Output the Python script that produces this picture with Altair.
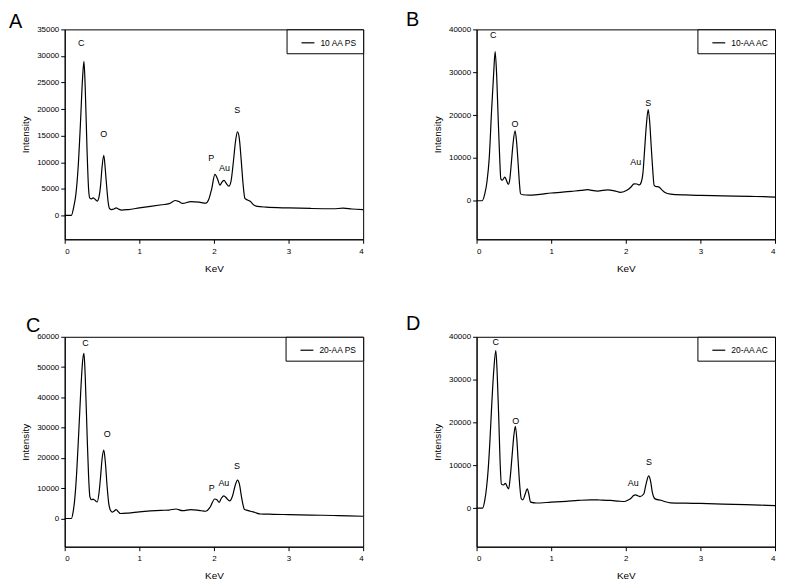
import altair as alt
import pandas as pd

# ---------------- Panel A : 10 AA PS ----------------
kev_a = [0.00, 0.09, 0.12, 0.15, 0.18, 0.21, 0.24, 0.258, 0.275, 0.30, 0.32, 0.335, 0.36, 0.38, 0.41,
         0.435, 0.46, 0.48, 0.50, 0.524, 0.545, 0.565, 0.585, 0.60, 0.63, 0.66, 0.69, 0.72, 0.76, 0.85,
         1.00, 1.15, 1.30, 1.40, 1.48, 1.53, 1.58, 1.69, 1.80, 1.89, 1.93, 1.97, 2.013, 2.05, 2.08,
         2.11, 2.135, 2.165, 2.20, 2.23, 2.26, 2.29, 2.316, 2.34, 2.365, 2.39, 2.415, 2.45, 2.49, 2.53,
         2.58, 2.70, 3.00, 3.30, 3.60, 3.73, 3.85, 4.00]
int_a = [0, 0, 1500, 4000, 9000, 17000, 26000, 29000, 24000, 12000, 5000, 3300, 3100, 3300, 3000,
         2700, 3500, 5500, 9000, 11300, 8500, 5000, 2200, 1300, 1100, 1200, 1400, 1200, 1000, 1100,
         1400, 1700, 2000, 2200, 2800, 2600, 2250, 2600, 2500, 2300, 3000, 5000, 7700, 6800, 5700,
         6300, 6600, 6000, 5500, 6500, 10000, 14000, 15700, 14500, 10500, 6000, 3200, 2900, 2600, 2000,
         1700, 1550, 1400, 1300, 1250, 1350, 1200, 1100]
peaks_a = ["C", "O", "P", "Au", "S"]
peaks_a_kev = [0.222, 0.524, 1.964, 2.142, 2.311]
peaks_a_int = [32500, 15300, 10800, 8900, 19800]

# ---------------- Panel B : 10-AA AC ----------------
kev_b = [0.00, 0.076, 0.11, 0.14, 0.17, 0.20, 0.23, 0.249, 0.27, 0.29, 0.31, 0.325, 0.345, 0.378, 0.40,
         0.425, 0.445, 0.467, 0.49, 0.516, 0.535, 0.556, 0.575, 0.59, 0.62, 0.70, 0.85, 1.00, 1.15, 1.27,
         1.40, 1.49, 1.55, 1.62, 1.76, 1.85, 1.93, 2.02, 2.07, 2.11, 2.15, 2.18, 2.21, 2.23, 2.25,
         2.275, 2.30, 2.32, 2.34, 2.36, 2.38, 2.41, 2.44, 2.48, 2.52, 2.60, 2.80, 3.00, 3.30, 3.67,
         3.85, 4.00]
int_b = [0, 0, 1600, 4500, 10000, 20600, 30000, 34800, 29000, 19000, 10000, 5100, 4800, 5500, 4800,
         3800, 5000, 9000, 13500, 16300, 14000, 9000, 4000, 1600, 1400, 1300, 1500, 1800, 2000, 2200,
         2400, 2600, 2400, 2250, 2550, 2300, 1950, 2500, 3200, 3950, 3900, 3700, 4500, 6500, 11300,
         17500, 21300, 18500, 12900, 7500, 3600, 3300, 3250, 2600, 2000, 1550, 1350, 1250, 1150, 1000,
         950, 850]
peaks_b = ["C", "O", "Au", "S"]
peaks_b_kev = [0.222, 0.516, 2.133, 2.30]
peaks_b_int = [38700, 17900, 9150, 22900]

# ---------------- Panel C : 20-AA PS ----------------
kev_c = [0.00, 0.09, 0.115, 0.133, 0.16, 0.187, 0.215, 0.24, 0.258, 0.275, 0.30, 0.32, 0.338, 0.36, 0.378,
         0.405, 0.435, 0.46, 0.48, 0.50, 0.524, 0.545, 0.569, 0.59, 0.613, 0.636, 0.66, 0.689, 0.72, 0.747,
         0.85, 1.00, 1.15, 1.29, 1.40, 1.49, 1.58, 1.69, 1.80, 1.89, 1.95, 2.01, 2.04, 2.07, 2.10,
         2.133, 2.17, 2.21, 2.25, 2.28, 2.316, 2.34, 2.37, 2.39, 2.41, 2.45, 2.49, 2.55, 2.62, 2.80,
         3.00, 3.30, 3.60, 3.80, 4.00]
int_c = [0, 0, 2500, 6000, 15000, 27800, 42000, 52000, 54500, 47000, 27800, 14000, 7100, 6200, 6400,
         6000, 5450, 8500, 13600, 19500, 22600, 18500, 10400, 5000, 2700, 2100, 2400, 2950, 2200, 1650,
         1800, 2200, 2500, 2700, 2800, 3150, 2600, 2950, 2700, 2400, 3800, 6450, 6200, 5350, 6700,
         7500, 6700, 5800, 7500, 10500, 12700, 11500, 7100, 4500, 2950, 2700, 2400, 2000, 1500, 1400,
         1300, 1150, 1000, 900, 750]
peaks_c = ["C", "O", "P", "Au", "S"]
peaks_c_kev = [0.28, 0.569, 1.97, 2.133, 2.31]
peaks_c_int = [57800, 27800, 10000, 11700, 17400]

# ---------------- Panel D : 20-AA AC ----------------
kev_d = [0.00, 0.08, 0.11, 0.135, 0.156, 0.18, 0.20, 0.23, 0.258, 0.275, 0.298, 0.315, 0.333, 0.36, 0.387,
         0.41, 0.43, 0.45, 0.476, 0.50, 0.52, 0.54, 0.556, 0.58, 0.60, 0.622, 0.65, 0.68, 0.70, 0.724,
         0.80, 1.00, 1.20, 1.36, 1.53, 1.65, 1.80, 1.90, 1.98, 2.03, 2.07, 2.10, 2.13, 2.16, 2.19,
         2.24, 2.27, 2.307, 2.33, 2.356, 2.38, 2.40, 2.47, 2.53, 2.60, 2.80, 3.00, 3.30, 3.60, 3.80,
         4.00]
int_d = [0, 0, 1800, 5000, 9100, 16000, 23000, 32000, 36800, 32000, 20700, 11000, 5600, 5400, 5800,
         5000, 4500, 7000, 12200, 17000, 19100, 16000, 11400, 5000, 2150, 1950, 3200, 4500, 3300, 1400,
         1200, 1400, 1600, 1800, 1950, 1900, 1800, 1650, 1550, 1900, 2300, 2900, 3100, 2900, 2700,
         3300, 5500, 7550, 6500, 3700, 2400, 2100, 1850, 1500, 1250, 1150, 1100, 950, 800, 700,
         600]
peaks_d = ["C", "O", "Au", "S"]
peaks_d_kev = [0.258, 0.524, 2.10, 2.31]
peaks_d_int = [38800, 20300, 5800, 10800]

FONT = "Liberation Sans"


def panel(letter, name, kev, inten, peaks, pkev, pint, ymin, ymax, ystep, dx, dy):
    df = pd.DataFrame({"KeV": kev, "Intensity": inten, "Sample": name})
    ldf = pd.DataFrame({"KeV": pkev, "Intensity": pint, "Peak": peaks})
    xaxis = alt.Axis(values=[0, 1, 2, 3, 4], format="d", title="KeV", labelOverlap=False)
    yaxis = alt.Axis(values=list(range(0, ymax + 1, ystep)), format="d", title="Intensity",
                     labelOverlap=False)
    xscale = alt.Scale(domain=[0, 4], nice=False, zero=False)
    yscale = alt.Scale(domain=[ymin, ymax], nice=False, zero=False)
    line = alt.Chart(df).mark_line(strokeWidth=1.2, interpolate="monotone").encode(
        x=alt.X("KeV:Q", scale=xscale, axis=xaxis),
        y=alt.Y("Intensity:Q", scale=yscale, axis=yaxis),
        color=alt.Color("Sample:N", scale=alt.Scale(range=["black"]),
                        legend=alt.Legend(title=None, orient="top-right", offset=0,
                                          strokeColor="black", fillColor="white",
                                          padding=6, symbolType="stroke", symbolSize=169,
                                          symbolStrokeWidth=1.2, symbolOffset=8,
                                          labelFontSize=8.5, labelFont=FONT,
                                          labelColor="black", labelOffset=5,
                                          cornerRadius=0)),
    )
    text = alt.Chart(ldf).mark_text(fontSize=9, font=FONT, fill="black").encode(
        x=alt.X("KeV:Q", scale=xscale, axis=xaxis),
        y=alt.Y("Intensity:Q", scale=yscale, axis=yaxis),
        text="Peak:N")
    return alt.layer(line, text).properties(
        width=300, height=211,
        title=alt.TitleParams(letter, anchor="start", frame="group", dx=dx, dy=dy,
                              fontSize=20, fontWeight="normal", font=FONT, color="black"),
    )


a = panel("A", "10 AA PS", kev_a, int_a, peaks_a, peaks_a_kev, peaks_a_int, -4500, 35000, 5000, -56, 11)
b = panel("B", "10-AA AC", kev_b, int_b, peaks_b, peaks_b_kev, peaks_b_int, -9000, 40000, 10000, -71, 9)
c = panel("C", "20-AA PS", kev_c, int_c, peaks_c, peaks_c_kev, peaks_c_int, -9300, 60000, 10000, -39, 7)
d = panel("D", "20-AA AC", kev_d, int_d, peaks_d, peaks_d_kev, peaks_d_int, -9000, 40000, 10000, -71, 5)

chart = alt.concat(a, b, c, d, columns=2, spacing=alt.RowColnumber(row=98, column=114),
                   bounds="flush").resolve_scale(
    color="independent"
).resolve_legend(
    color="independent"
).properties(
    padding=0, background="white"
).configure_view(
    stroke="black", strokeWidth=1
).configure_axis(
    grid=False, domainColor="black", tickColor="black", labelColor="black", titleColor="black",
    labelFont=FONT, titleFont=FONT, labelFontSize=8, titleFontSize=10, titleFontWeight="normal",
    tickSize=4,
).configure_axisY(
    labelPadding=2, titlePadding=6
).configure_axisX(
    labelPadding=4, titlePadding=8
)

chart.save("out.html", embed_options={"renderer": "svg", "actions": False})
